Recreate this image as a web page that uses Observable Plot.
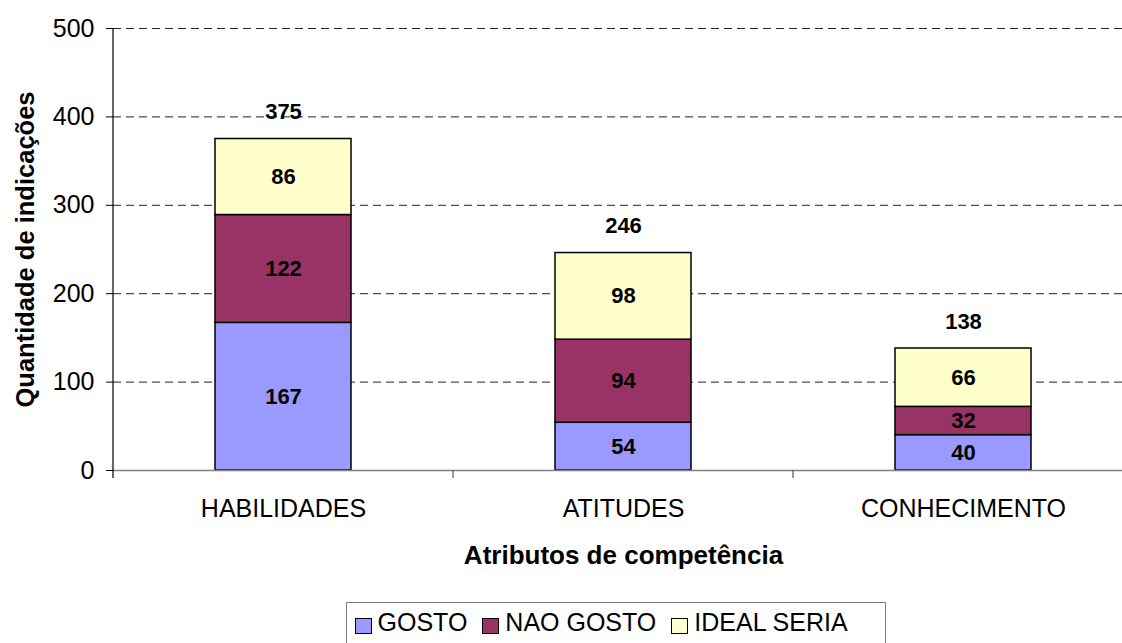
<!DOCTYPE html>
<html>
<head>
<meta charset="utf-8">
<script src="https://cdn.jsdelivr.net/npm/d3@7"></script>
<script src="https://cdn.jsdelivr.net/npm/@observablehq/plot@0.6"></script>
<style>
  html, body { margin: 0; padding: 0; background: #fff; }
  #wrap { position: relative; width: 1122px; height: 643px; overflow: hidden; font-family: "Liberation Sans", Arial, sans-serif; }
  #legend { position: absolute; left: 346px; top: 602px; width: 540px; height: 60px; box-sizing: border-box;
            border: 1.5px solid #808080; display: flex; align-items: flex-start; padding: 6.5px 0 0 7.5px;
            font-size: 25px; line-height: 25px; color: #000; white-space: nowrap; }
  .item { display: flex; align-items: flex-start; margin-right: 15px; }
  .sw { box-sizing: border-box; width: 17px; height: 16px; border: 1.5px solid #000; margin-right: 6px; margin-top: 8px; }
</style>
</head>
<body>
<div id="wrap"><div id="chart"></div><div id="legend"></div></div>
<script>
const categories = ["HABILIDADES", "ATITUDES", "CONHECIMENTO"];
const seriesNames = ["GOSTO", "NAO GOSTO", "IDEAL SERIA"];
const seriesColors = ["#9999FF", "#993366", "#FFFFCC"];
const gosto = [167, 54, 40];
const naoGosto = [122, 94, 32];
const idealSeria = [86, 98, 66];
const totals = [375, 246, 138];
const yTicks = [0, 100, 200, 300, 400, 500];
const yLabel = "Quantidade de indicações";
const xLabel = "Atributos de competência";

const seriesValues = [gosto, naoGosto, idealSeria];
const rows = [];
categories.forEach((c, i) => {
  seriesNames.forEach((s, j) => rows.push({cat: c, series: s, value: seriesValues[j][i]}));
});
const totalRows = categories.map((c, i) => ({cat: c, total: totals[i]}));

const FONT = '"Liberation Sans", Arial, sans-serif';

const frameLines = (index, scales, values, dims) => {
  const g = d3.create("svg:g");
  const x0 = dims.marginLeft;
  const x1 = dims.width - dims.marginRight;
  const yb = scales.y(0);
  const yt = scales.y(yTicks[yTicks.length - 1]);
  const n = categories.length;
  const step = (x1 - x0) / n;
  g.append("line").attr("x1", x0).attr("x2", x0).attr("y1", yt).attr("y2", yb + 8)
    .attr("stroke", "#000").attr("stroke-width", 1.2);
  for (let i = 1; i <= n; i++) {
    const x = x0 + i * step;
    g.append("line").attr("x1", x).attr("x2", x).attr("y1", yb).attr("y2", yb + 8)
      .attr("stroke", "#555").attr("stroke-width", 1.2);
  }
  return g.node();
};

const chart = Plot.plot({
  width: 1122,
  height: 590,
  marginLeft: 113,
  marginRight: -11,
  marginTop: 28,
  marginBottom: 120,
  style: {fontFamily: FONT, background: "white", color: "#000"},
  x: {domain: categories, paddingInner: 0.6, paddingOuter: 0.3, label: null},
  y: {domain: [0, 500], label: null},
  color: {domain: seriesNames, range: seriesColors},
  marks: [
    Plot.gridY({ticks: yTicks.filter(d => d > 0), stroke: "#222", strokeOpacity: 1, strokeWidth: 1, strokeDasharray: "8,5"}),
    Plot.barY(rows, {x: "cat", y: "value", fill: "series", stroke: "#000", strokeWidth: 1.5}),
    Plot.ruleY([0], {stroke: "#808080", strokeWidth: 1.5}),
    Plot.text(rows, Plot.stackY({x: "cat", y: "value", z: "series", text: d => String(d.value),
      fontWeight: "bold", fontSize: 22, fill: "#000"})),
    Plot.text(totalRows, {x: "cat", y: "total", text: d => String(d.total), dy: -27,
      fontWeight: "bold", fontSize: 22, fill: "#000"}),
    Plot.axisY({ticks: yTicks, tickSize: 7, tickPadding: 12, fontSize: 25, tickFormat: d => String(d), label: null}),
    Plot.axisX({tickSize: 0, tickPadding: 29, fontSize: 25, label: null}),
    frameLines,
    Plot.text([yLabel], {text: d => d, frameAnchor: "left", textAnchor: "middle", rotate: -90, dx: -88,
      fontWeight: "bold", fontSize: 25.5, fill: "#000"}),
    Plot.text([xLabel], {text: d => d, frameAnchor: "bottom", dy: 93, fontWeight: "bold", fontSize: 26, fill: "#000"})
  ]
});
document.getElementById("chart").appendChild(chart);

const legend = document.getElementById("legend");
seriesNames.forEach((s, i) => {
  const item = document.createElement("div");
  item.className = "item";
  const sw = document.createElement("div");
  sw.className = "sw";
  sw.style.background = seriesColors[i];
  const t = document.createElement("span");
  t.textContent = s;
  item.appendChild(sw);
  item.appendChild(t);
  legend.appendChild(item);
});
</script>
</body>
</html>
